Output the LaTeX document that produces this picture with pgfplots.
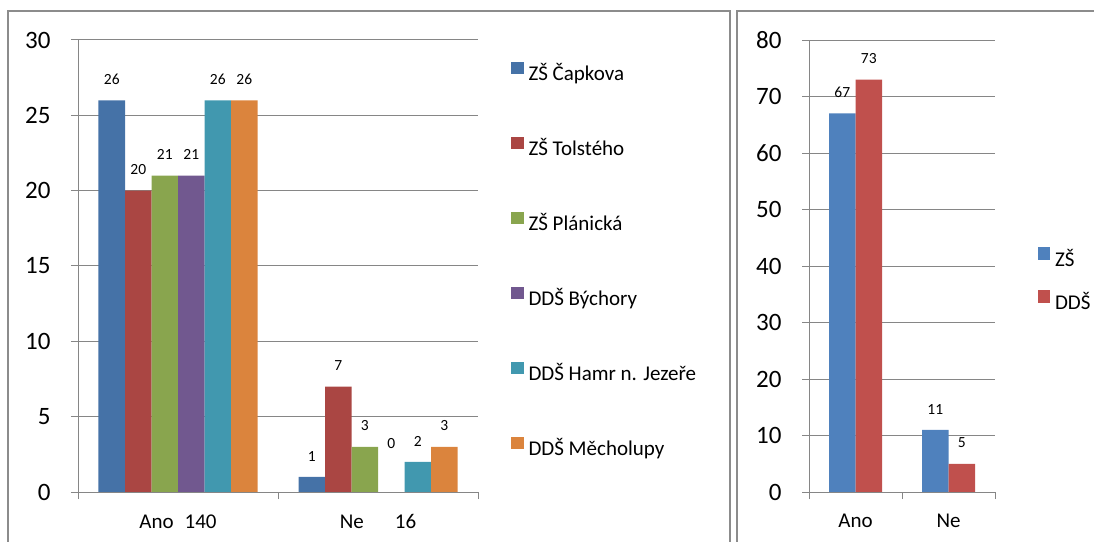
\documentclass[border=0pt]{standalone}
\usepackage{fontspec}
\setmainfont{Carlito}
\usepackage{pgfplots}
\pgfplotsset{compat=1.18}

\definecolor{cBlue}{HTML}{4572A7}
\definecolor{cRed}{HTML}{AA4643}
\definecolor{cGreen}{HTML}{89A54E}
\definecolor{cPurple}{HTML}{71588F}
\definecolor{cTeal}{HTML}{4198AF}
\definecolor{cOrange}{HTML}{DB843D}
\definecolor{zsBlue}{HTML}{4F81BD}
\definecolor{ddsRed}{HTML}{C0504D}
\definecolor{gridgray}{HTML}{868686}
\definecolor{framegray}{HTML}{8C8C8C}

\pgfplotsset{
  /pgf/number format/assume math mode=true,
  xlsbar/.style={
    scale only axis,
    ybar=0pt,
    bar width=26.5bp,
    xmin=-0.5, xmax=1.5,
    ymin=0,
    axis x line*=bottom,
    axis y line*=left,
    axis line style={gridgray, line width=1bp, -},
    ymajorgrids=true,
    grid style={gridgray, line width=1bp},
    tick align=outside,
    major tick length=7bp,
    tick style={gridgray, line width=1bp},
    yticklabel style={font=\fontsize{25bp}{27bp}\selectfont, text=black, xshift=-17bp},
    xtick={-0.5,0.5,1.5},
    xticklabels={},
    extra x ticks={0,1},
    extra x tick style={major tick length=0pt,
      xticklabel style={font=\fontsize{21bp}{23bp}\selectfont, text=black, yshift=-19bp}},
    nodes near coords,
    visualization depends on={y \as \rawy},
    nodes near coords style={font=\fontsize{15.5bp}{17bp}\selectfont,
      inner sep=0pt, anchor=south, text=black},
    every node near coord/.append style={yshift={15.5bp+28bp*(\rawy==0)}},
    legend cell align=left,
    legend image code/.code={\fill[##1] (0bp,1bp) rectangle (12.5bp,13.5bp);},
    legend style={draw=none, fill=none, inner sep=0pt, outer sep=0pt,
      column sep=5bp,
      nodes={inner sep=0pt, text height=16bp, text depth=5bp,
        font=\fontsize{21bp}{23bp}\selectfont}},
  },
}

\begin{document}
\begin{tikzpicture}
\useasboundingbox (0bp,0bp) rectangle (1094bp,542bp);
\draw[framegray, line width=1.3bp] (8bp,-10bp) -- (8bp,531bp) -- (730bp,531bp) -- (730bp,-10bp);
\draw[framegray, line width=1.3bp] (737bp,-10bp) -- (737bp,531bp) -- (1100bp,531bp);

% left chart: six schools
\begin{scope}[shift={(78bp,50bp)}]
\begin{axis}[xlsbar,
    width=400bp, height=452bp,
    ymax=30, ytick={0,5,...,30},
    extra x tick labels={Ano\hspace{11bp}140, Ne\hspace{31bp}16},
    legend style={at={(axis description cs:1.0825,0.9518)}, anchor=north west, row sep=51bp},
]
\addplot[fill=cBlue, draw=none] coordinates {(0,26) (1,1)};
\addplot[fill=cRed, draw=none] coordinates {(0,20) (1,7)};
\addplot[fill=cGreen, draw=none] coordinates {(0,21) (1,3)};
\addplot[fill=cPurple, draw=none] coordinates {(0,21) (1,0)};
\addplot[fill=cTeal, draw=none] coordinates {(0,26) (1,2)};
\addplot[fill=cOrange, draw=none] coordinates {(0,26) (1,3)};
\legend{ZŠ Čapkova, ZŠ Tolstého, ZŠ Plánická, DDŠ Býchory, DDŠ Hamr n. Jezeře, DDŠ Měcholupy}
\end{axis}
\end{scope}

% right chart: totals by school type
\begin{scope}[shift={(809bp,50bp)}]
\begin{axis}[xlsbar,
    width=186bp, height=452bp,
    ymax=80, ytick={0,10,...,80},
    extra x tick labels={Ano, Ne},
    legend style={at={(axis description cs:1.2285,0.541)}, anchor=north west, row sep=19bp},
]
\addplot[fill=zsBlue, draw=none] coordinates {(0,67) (1,11)};
\addplot[fill=ddsRed, draw=none] coordinates {(0,73) (1,5)};
\legend{ZŠ, DDŠ}
\end{axis}
\end{scope}
\end{tikzpicture}
\end{document}
